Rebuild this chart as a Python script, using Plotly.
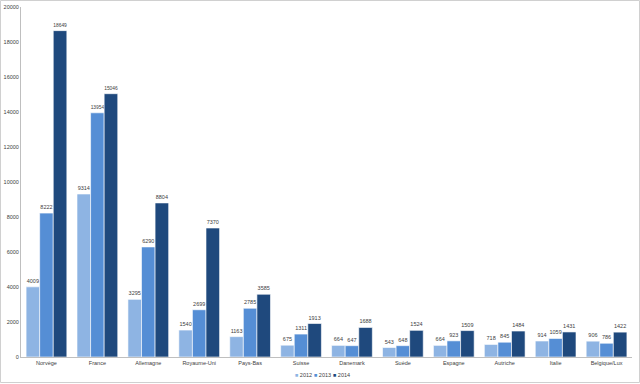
import plotly.graph_objects as go

categories = ["Norvège", "France", "Allemagne", "Royaume-Uni", "Pays-Bas", "Suisse",
              "Danemark", "Suède", "Espagne", "Autriche", "Italie", "Belgique/Lux"]
years = ["2012", "2013", "2014"]
v2012 = [4009, 9314, 3295, 1540, 1163, 675, 664, 543, 664, 718, 914, 906]
v2013 = [8222, 13954, 6290, 2699, 2785, 1311, 647, 648, 923, 845, 1059, 786]
v2014 = [18649, 15046, 8804, 7370, 3585, 1913, 1688, 1524, 1509, 1484, 1431, 1422]
colors = ["#8EB4E3", "#558ED5", "#1F497D"]

W, H = 640, 384
ml, mr, mt, mb = 21, 8, 7, 27
pw, ph = W - ml - mr, H - mt - mb

fig = go.Figure()
for name, vals, col in zip(years, [v2012, v2013, v2014], colors):
    fig.add_trace(go.Bar(
        x=categories, y=vals, name=name, showlegend=False,
        marker=dict(color=col, line=dict(color="white", width=0.6)),
        text=[str(v) for v in vals], textposition="outside",
        textfont=dict(size=5.5, color="#404040"),
        cliponaxis=False,
    ))


def px_x(p):
    return (p - ml) / pw


def px_y(p):
    return (H - mb - p) / ph


# compact legend: coloured square + year for each series
legend_notes = [
    dict(text=f"<span style='color:{c}'>■</span> {y}", xref="paper", yref="paper",
         x=px_x(293 + 19 * i), y=px_y(375), xanchor="left", yanchor="middle",
         showarrow=False, font=dict(size=5.5, color="#404040"))
    for i, (y, c) in enumerate(zip(years, colors))
]

fig.update_layout(
    width=W, height=H,
    margin=dict(l=ml, r=mr, t=mt, b=mb, autoexpand=False),
    paper_bgcolor="white", plot_bgcolor="white",
    barmode="group", bargap=0.2, bargroupgap=0,
    font=dict(family="Liberation Sans, Arial, sans-serif", size=6, color="#404040"),
    showlegend=False,
    xaxis=dict(showgrid=False, showline=True, linecolor="#BFBFBF", linewidth=1,
               ticks="", tickfont=dict(size=5.5, color="#404040"), fixedrange=True),
    yaxis=dict(range=[0, 20000], dtick=2000, tickformat="d", showgrid=False,
               showline=True, linecolor="#BFBFBF", linewidth=1, ticks="",
               zeroline=False, tickfont=dict(size=5.5, color="#404040"),
               fixedrange=True),
    annotations=legend_notes,
    shapes=[dict(type="rect", xref="paper", yref="paper",
                 x0=px_x(0.5), x1=px_x(639.5), y0=px_y(382.5), y1=px_y(0.5),
                 line=dict(color="#D0D0D0", width=1), fillcolor="rgba(0,0,0,0)",
                 layer="below")],
)

fig.write_html("out.html")
